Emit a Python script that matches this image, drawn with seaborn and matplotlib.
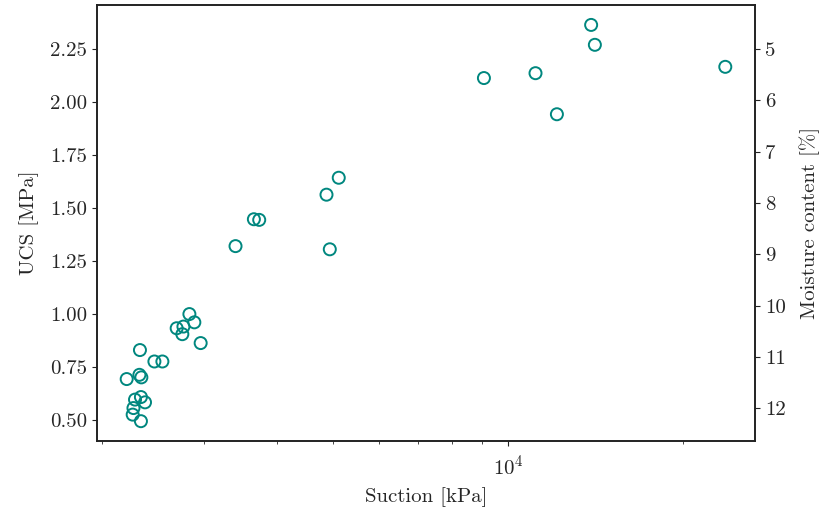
import matplotlib
matplotlib.use("Agg")
import matplotlib.pyplot as plt
import seaborn as sns
import numpy as np
import pandas as pd

# Data
suction_kpa = [2206, 2320, 2338, 2462, 2541, 2334, 2280, 2372, 2266, 2259,
               2334, 2325, 2828, 2884, 2689, 2762, 2750, 2957, 5110, 4868,
               3651, 3729, 3395, 4932, 13887, 14094, 9082, 11141, 12126, 23627]
ucs_mpa = [0.693, 0.713, 0.701, 0.776, 0.776, 0.608, 0.596, 0.583, 0.556, 0.525,
           0.494, 0.830, 1.000, 0.961, 0.933, 0.941, 0.905, 0.863, 1.644, 1.564,
           1.448, 1.445, 1.321, 1.306, 2.366, 2.272, 2.115, 2.138, 1.944, 2.168]
ucs_ticks = [0.5, 0.75, 1.0, 1.25, 1.5, 1.75, 2.0, 2.25]
moisture_ticks = [5, 6, 7, 8, 9, 10, 11, 12]
moisture_limits = [12.64, 4.14]

df = pd.DataFrame({"Suction": suction_kpa, "UCS": ucs_mpa})

sns.set_style("ticks")
plt.rcParams["font.family"] = ["cmr10", "DejaVu Serif"]
plt.rcParams["mathtext.fontset"] = "cm"
plt.rcParams["axes.formatter.use_mathtext"] = True
plt.rcParams["axes.unicode_minus"] = False

FS = 15
fig = plt.figure(figsize=(8.2, 5.11), dpi=100)
ax = fig.add_axes([0.118, 0.137, 0.803, 0.853])

sns.scatterplot(data=df, x="Suction", y="UCS", ax=ax, marker="o", s=75,
                facecolor="none", edgecolor="#00877f", linewidth=1.4, legend=False)
ax.set_xscale("log")
ax.set_xlabel("Suction [kPa]", fontsize=FS, labelpad=6)
ax.set_ylabel("UCS [MPa]", fontsize=FS, labelpad=8)
ax.tick_params(labelsize=FS, direction="out", color="#222222")
ax.tick_params(axis="x", which="major", pad=6)
ax.set_yticks(ucs_ticks)
ax.set_yticklabels([f"{v:.2f}" for v in ucs_ticks])

ax2 = ax.twinx()
ax2.set_ylim(moisture_limits)
ax2.set_yticks(moisture_ticks)
ax2.set_yticklabels([str(t) for t in moisture_ticks])
ax2.set_ylabel("Moisture content [%]", fontsize=FS, labelpad=10)
ax2.tick_params(labelsize=FS, direction="out", color="#222222")

for a in (ax, ax2):
    for sp in a.spines.values():
        sp.set_visible(True)
        sp.set_color("#222222")
        sp.set_linewidth(1.2)

fig.savefig("out.png", dpi=100)
